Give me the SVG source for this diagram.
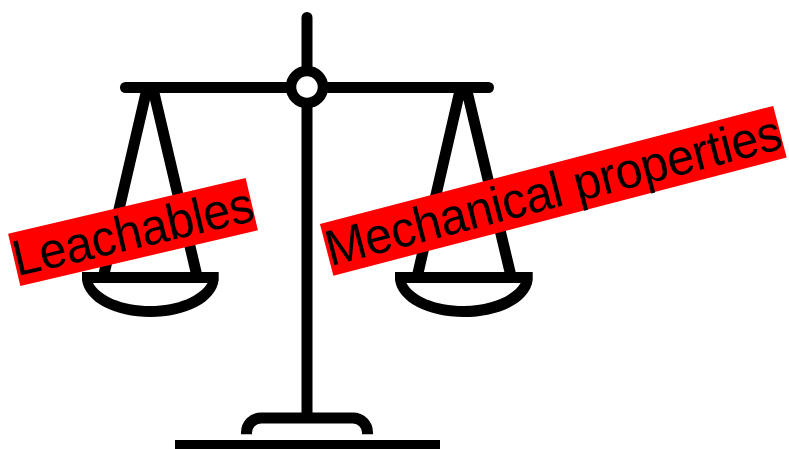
<svg xmlns="http://www.w3.org/2000/svg" width="789" height="449" viewBox="0 0 789 449">
<style>
.s{fill:none;stroke:#000;stroke-width:11}
.r{stroke-linecap:round}
.p{fill:#000;fill-rule:evenodd}
.t{font-family:"Liberation Sans",Arial,sans-serif;font-size:48.500px;letter-spacing:-0.250px;fill:#000;text-rendering:geometricPrecision}
</style>
<g id="scale">
<path class="s r" d="M307 17.500V414"/>
<path class="s r" d="M125.500 87.500H488.500"/>
<path class="s" d="M147.400 87L104 274M152.600 87L196.500 274"/>
<path class="s" d="M460.800 87L417.800 274M466 87L510.500 274"/>
<path class="p" d="M82 272H218.700V280C216 302 186 317 150.300 317C115 317 85 302 82 280ZM93 283H207.500C200 296 178 306 150.300 306C122 306 100 296 93 283Z"/>
<path class="p" d="M395 272H532.700V280C530 302 500 317 463.800 317C428 317 398 302 395 280ZM406.500 283H520.700C513 296 491 306 463.800 306C435 306 413 296 406.500 283Z"/>
<path class="s" d="M246.500 434.300V432.500A14.500 14.500 0 0 1 261 418H353A14.500 14.500 0 0 1 367.500 432.500V434.300"/>
<rect x="175" y="440" width="265" height="9" fill="#000"/>
<circle cx="307" cy="87" r="16" fill="#fff" stroke="#000" stroke-width="10.500"/>
</g>
<g id="leachables" transform="translate(133 232) rotate(-13.200)">
<rect x="-122" y="-26.800" width="244" height="53.600" fill="#f00"/>
<text class="t" text-anchor="middle" x="0" y="16.100" transform="scale(1 1.04)">Leachables</text>
</g>
<g id="mechanical" transform="translate(553.300 190.800) rotate(-14.600)">
<rect x="-234.200" y="-26.700" width="468.400" height="53.400" fill="#f00"/>
<text class="t" text-anchor="middle" x="0" y="16.100" transform="scale(1 1.04)">Mechanical properties</text>
</g>
</svg>
